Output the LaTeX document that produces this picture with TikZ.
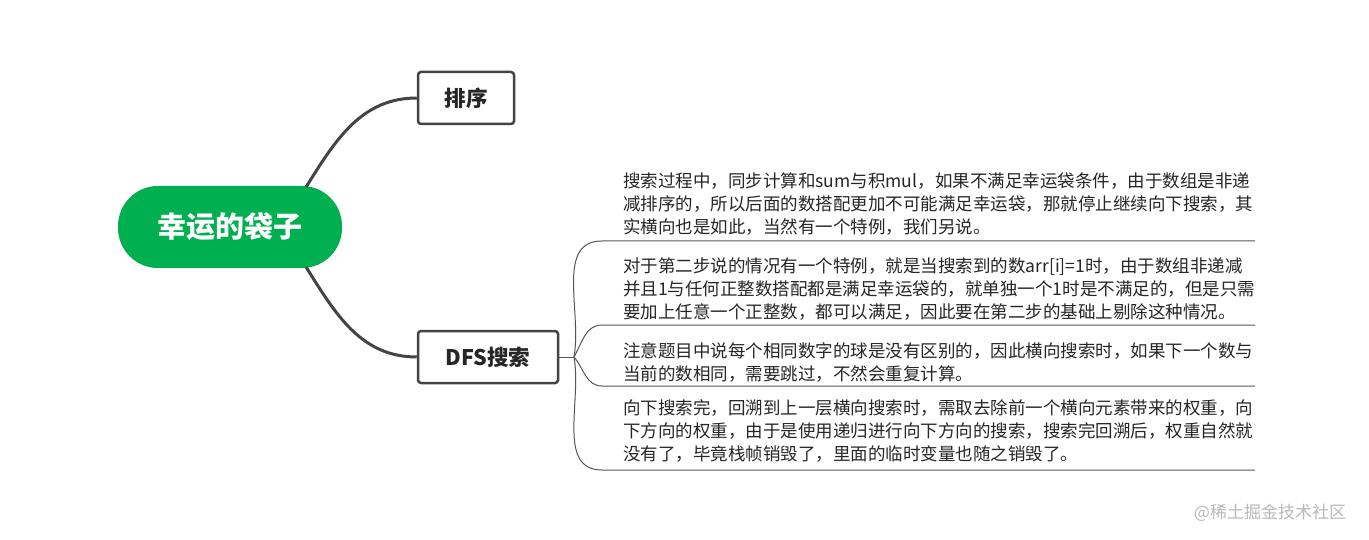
\documentclass[tikz,border=0pt]{standalone}
\usepackage{fontspec}
\setmainfont{Noto Sans CJK SC}
\usetikzlibrary{positioning}
\definecolor{rootgreen}{RGB}{0,175,80}
\definecolor{linegray}{RGB}{68,68,68}
\definecolor{twiggray}{RGB}{85,85,85}

\begin{document}
\begin{tikzpicture}[x=1pt, y=-1pt,
    root/.style={rectangle, rounded corners=40pt, fill=rootgreen, minimum width=224pt, minimum height=82pt, text=white, font=\fontsize{29}{32}\selectfont\bfseries},
    topic/.style={rectangle, draw=linegray, line width=2.5pt, rounded corners=3pt, fill=white, minimum height=52pt, font=\fontsize{21.5}{24}\selectfont\bfseries, text=black!85},
    note/.style={anchor=north west, align=left, inner sep=0pt, font=\fontsize{17.5}{23}\selectfont, text=black!85},
    branch/.style={draw=linegray, line width=3pt},
    twig/.style={draw=twiggray, line width=1pt}
]
\useasboundingbox[fill=white] (0,0) rectangle (1369,540);

% Nodes
\node[root] (lucky) at (230,227) {幸运的袋子};
\node[topic, minimum width=96pt] (sort) at (466,98) {排序};
\node[topic, minimum width=140pt] (dfs) at (488,357) {DFS搜索};

\node[note] (step1) at (623,173) {搜索过程中，同步计算和sum与积mul，如果不满足幸运袋条件，由于数组是非递\\减排序的，所以后面的数搭配更加不可能满足幸运袋，那就停止继续向下搜索，其\\实横向也是如此，当然有一个特例，我们另说。};
\node[note] (step2) at (623,258) {对于第二步说的情况有一个特例，就是当搜索到的数arr[i]=1时，由于数组非递减\\并且1与任何正整数搭配都是满足幸运袋的，就单独一个1时是不满足的，但是只需\\要加上任意一个正整数，都可以满足，因此要在第二步的基础上剔除这种情况。};
\node[note] (step3) at (623,342) {注意题目中说每个相同数字的球是没有区别的，因此横向搜索时，如果下一个数与\\当前的数相同，需要跳过，不然会重复计算。};
\node[note] (step4) at (623,399) {向下搜索完，回溯到上一层横向搜索时，需取去除前一个横向元素带来的权重，向\\下方向的权重，由于是使用递归进行向下方向的搜索，搜索完回溯后，权重自然就\\没有了，毕竟栈帧销毁了，里面的临时变量也随之销毁了。};

\node[text=gray!55, font=\fontsize{17}{20}\selectfont] (mark) at (1270,513) {@稀土掘金技术社区};

% Connections
\coordinate (fork) at (574,357);
\coordinate (u1) at (602,241); \coordinate (v1) at (1255,241);
\coordinate (u2) at (602,325); \coordinate (v2) at (1255,325);
\coordinate (u3) at (602,386); \coordinate (v3) at (1255,386);
\coordinate (u4) at (602,470); \coordinate (v4) at (1255,470);

\draw[branch] (lucky.north east) ++(-36,1) to[out=58, in=180] (sort.west);
\draw[branch] (lucky.south east) ++(-36,-1) to[out=-58, in=180] (dfs.west);

\draw[twig] (dfs.east) -- (fork);
\draw[twig] (fork) to[out=80, in=180] (u1) -- (v1);
\draw[twig] (fork) to[out=60, in=180] (u2) -- (v2);
\draw[twig] (fork) to[out=-50, in=180] (u3) -- (v3);
\draw[twig] (fork) to[out=-80, in=180] (u4) -- (v4);

\end{tikzpicture}
\end{document}
